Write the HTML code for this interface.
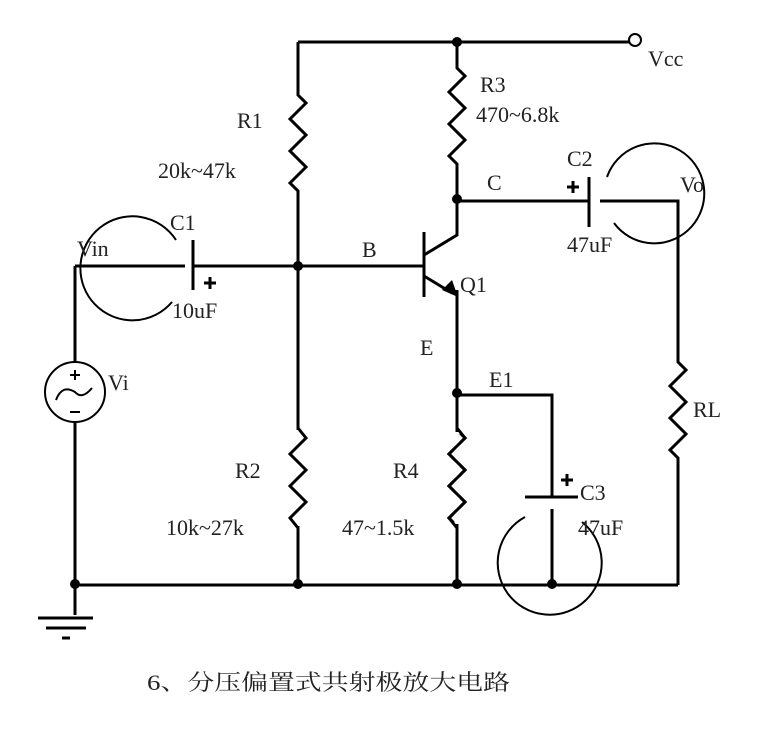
<!DOCTYPE html>
<html><head><meta charset="utf-8"><style>
html,body{margin:0;padding:0;background:#fff;}
svg{display:block}
text{font-family:"Liberation Serif","Noto Serif CJK SC",serif;fill:#222;font-size:22px}
</style></head><body>
<svg width="769" height="733" viewBox="0 0 769 733" xmlns="http://www.w3.org/2000/svg">
<g stroke="#000" stroke-width="3" fill="none" stroke-linejoin="miter">
<!-- top rail -->
<line x1="298" y1="42" x2="629" y2="42"/>
<!-- R1 -->
<polyline points="298,42 298,95 306,103 290,119 306,135 290,151 306,167 290,183 298,191 298,585"/>
<!-- R3 -->
<polyline points="457,42 457,68 465,76 449,92 465,108 449,124 465,140 449,156 457,164 457,235 424,255"/>
<!-- base wire -->
<line x1="75" y1="266" x2="185" y2="266"/>
<line x1="193" y1="266" x2="424" y2="266"/>
<line x1="193" y1="240" x2="193" y2="290"/>
<!-- transistor -->
<line x1="424" y1="232" x2="424" y2="297"/>
<line x1="424" y1="276" x2="452" y2="293"/>
<!-- emitter -->
<line x1="457" y1="290" x2="457" y2="585"/>
<!-- R4 zig -->
<polyline points="457,430 465,438 449,454 465,470 449,486 465,502 449,518 457,526" />
<!-- E1 -->
<polyline points="457,395 552,395 552,497"/>
<line x1="525" y1="497" x2="578" y2="497"/>
<line x1="552" y1="509" x2="552" y2="585"/>
<!-- C wire -->
<line x1="457" y1="201" x2="589" y2="201"/>
<line x1="589" y1="177" x2="589" y2="227"/>
<polyline points="600,201 678,201 678,362 686,370 670,386 686,402 670,418 686,434 670,450 678,458 678,585"/>
<!-- bottom -->
<line x1="75" y1="585" x2="678" y2="585"/>
<!-- R2 zig overlay: draw as separate path replacing straight segment -->
<!-- Vi -->
<line x1="75" y1="266" x2="75" y2="362"/>
<line x1="75" y1="423" x2="75" y2="615"/>
<line x1="38" y1="618" x2="93" y2="618"/>
<line x1="46" y1="628" x2="86" y2="628"/>
<line x1="62" y1="638" x2="70" y2="638"/>
</g>
<!-- R2 zigzag: white-out straight line then zig -->
<line x1="298" y1="430" x2="298" y2="526" stroke="#fff" stroke-width="5"/>
<polyline points="298,428 306,438 290,454 306,470 290,486 306,502 290,518 298,528" stroke="#000" stroke-width="3" fill="none"/>
<line x1="457" y1="432" x2="457" y2="524" stroke="#fff" stroke-width="5"/>
<polyline points="457,428 465,438 449,454 465,470 449,486 465,502 449,518 457,528" stroke="#000" stroke-width="3" fill="none"/>
<!-- arrow -->
<polygon points="458,297 442,290 452,280" fill="#000"/>
<!-- Vcc terminal -->
<circle cx="635" cy="40" r="6" fill="#fff" stroke="#000" stroke-width="2"/>
<!-- dots -->
<g fill="#000">
<circle cx="457" cy="42" r="5"/><circle cx="457" cy="199" r="5"/><circle cx="298" cy="266" r="5"/>
<circle cx="457" cy="393" r="5"/><circle cx="75" cy="584" r="5"/><circle cx="298" cy="584" r="5"/>
<circle cx="457" cy="584" r="5"/><circle cx="552" cy="584" r="5"/>
</g>
<!-- probe arcs -->
<g stroke="#000" stroke-width="2" fill="none">
<path d="M176,240 A52,52 0 1 0 172,302"/>
<path d="M607,177 A50,50 0 1 1 614,223"/>
<path d="M525,517 A52,52 0 1 0 582,522"/>
<circle cx="75" cy="392" r="30"/>
<path d="M56,400 Q62,384 75,392 Q82,400 92,388" />
</g>
<g stroke="#000" stroke-width="2">
<line x1="70" y1="375" x2="80" y2="375"/><line x1="75" y1="370" x2="75" y2="380"/>
<line x1="70" y1="412" x2="80" y2="412"/>
</g>
<!-- plus signs -->
<g stroke="#000" stroke-width="3">
<line x1="204" y1="283" x2="216" y2="283"/><line x1="210" y1="277" x2="210" y2="289"/>
<line x1="567" y1="187" x2="579" y2="187"/><line x1="573" y1="181" x2="573" y2="193"/>
<line x1="561" y1="480" x2="573" y2="480"/><line x1="567" y1="474" x2="567" y2="486"/>
</g>
<!-- labels -->
<text x="648" y="66">Vcc</text>
<text x="237" y="128">R1</text>
<text x="158" y="178">20k~47k</text>
<text x="480" y="92">R3</text>
<text x="476" y="122">470~6.8k</text>
<text x="567" y="166">C2</text>
<text x="487" y="190">C</text>
<text x="680" y="192">Vo</text>
<text x="567" y="252">47uF</text>
<text x="170" y="230">C1</text>
<text x="77" y="256">Vin</text>
<text x="362" y="257">B</text>
<text x="460" y="292">Q1</text>
<text x="172" y="318">10uF</text>
<text x="420" y="355">E</text>
<text x="108" y="390">Vi</text>
<text x="489" y="387">E1</text>
<text x="693" y="417">RL</text>
<text x="235" y="478">R2</text>
<text x="393" y="478">R4</text>
<text x="580" y="500">C3</text>
<text x="578" y="535">47uF</text>
<text x="166" y="535">10k~27k</text>
<text x="342" y="535">47~1.5k</text>
<text x="147" y="690" font-size="27" textLength="363" lengthAdjust="spacingAndGlyphs">6、分压偏置式共射极放大电路</text>
</svg>
</body></html>
